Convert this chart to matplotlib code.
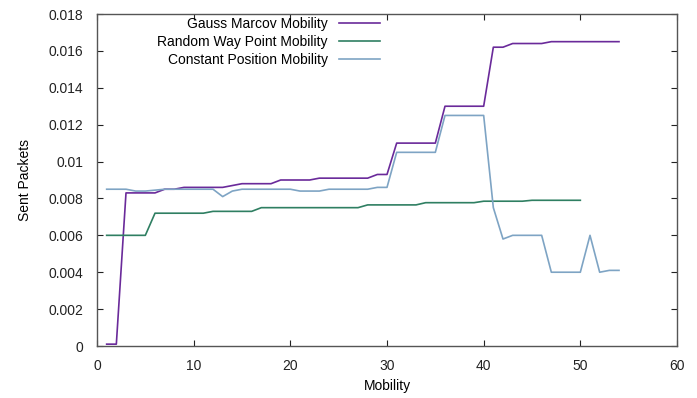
import matplotlib
matplotlib.use("Agg")
import matplotlib.pyplot as plt

plt.rcParams['font.family'] = ['Liberation Sans', 'DejaVu Sans']

x_gauss = list(range(1, 55))
gauss = ([0.0001, 0.0001, 0.0083, 0.0083, 0.0083, 0.0083, 0.0085, 0.0085, 0.0086]
         + [0.0086] * 4 + [0.0087] + [0.0088] * 4 + [0.0090] * 4 + [0.0091] * 6
         + [0.0093] * 2 + [0.0110] * 5 + [0.0130] * 5 + [0.0162] * 2
         + [0.0164] * 4 + [0.0165] * 8)

x_rwp = list(range(1, 51))
rwp = ([0.0060] * 5 + [0.0072] * 6 + [0.0073] * 5 + [0.0075] * 11
       + [0.00765] * 6 + [0.00777] * 6 + [0.00785] * 5 + [0.0079] * 6)

x_cp = list(range(1, 55))
cp = ([0.0085, 0.0085, 0.0085, 0.0084, 0.0084, 0.00845] + [0.0085] * 6
      + [0.0081, 0.0084] + [0.0085] * 6 + [0.0084] * 3 + [0.0085] * 5
      + [0.0086] * 2 + [0.0105] * 5 + [0.0125] * 5
      + [0.0075, 0.0058] + [0.0060] * 4 + [0.0040] * 4 + [0.0060, 0.0040, 0.0041, 0.0041])

labels = ["Gauss Marcov Mobility", "Random Way Point Mobility", "Constant Position Mobility"]
colors = ["#6a2a9a", "#2f7f62", "#7ea4c4"]

fig = plt.figure(figsize=(6.97, 3.98), dpi=100)
ax = fig.add_axes([97/697, 52/398, 580/697, 332/398])

ax.plot(x_gauss, gauss, color=colors[0], lw=1.2, label=labels[0])
ax.plot(x_rwp, rwp, color=colors[1], lw=1.2, label=labels[1])
ax.plot(x_cp, cp, color=colors[2], lw=1.2, label=labels[2])

ax.set_xlim(0, 60)
ax.set_ylim(0, 0.018)
ax.set_xticks(range(0, 61, 10))
yt = [0, 0.002, 0.004, 0.006, 0.008, 0.01, 0.012, 0.014, 0.016, 0.018]
ax.set_yticks(yt)
ax.set_yticklabels(["0", "0.002", "0.004", "0.006", "0.008", "0.01", "0.012", "0.014", "0.016", "0.018"])
ax.tick_params(direction='in', top=True, right=True, length=4, labelsize=10, colors='#222222')
ax.tick_params(axis='y', pad=10)
ax.tick_params(axis='x', pad=9)
for s in ax.spines.values():
    s.set_color('#555555')
    s.set_linewidth(1.0)

ax.set_xlabel("Mobility", fontsize=10, labelpad=5)
ax.set_ylabel("Sent Packets", fontsize=10, labelpad=12)

leg = ax.legend(loc='upper right', bbox_to_anchor=(386/697, 387/398), bbox_transform=fig.transFigure,
                frameon=False, markerfirst=False, fontsize=10, handlelength=3.0,
                labelspacing=0.3, handletextpad=0.8, borderaxespad=0)
for t in leg.get_texts():
    t.set_ha('right')

fig.savefig("out.png", dpi=100)
